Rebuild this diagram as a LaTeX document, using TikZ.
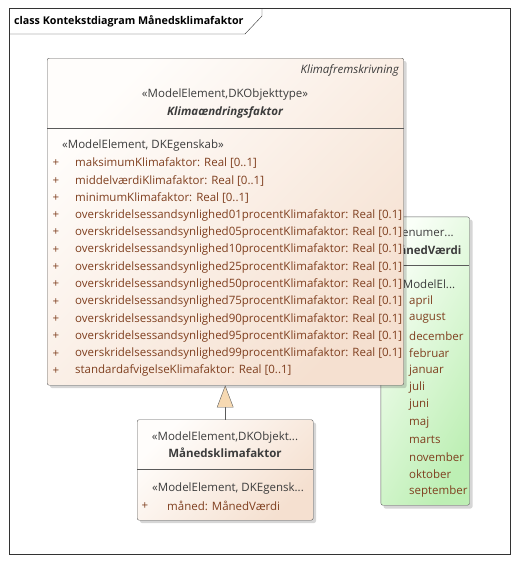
\documentclass[tikz,border=0pt]{standalone}
\usepackage{fontspec}
\setmainfont{Open Sans}
\usetikzlibrary{arrows.meta,positioning,calc}
\definecolor{boxline}{HTML}{5A5A5A}
\definecolor{peach}{HTML}{F5E0D0}
\definecolor{peachlite}{HTML}{FFFDFB}
\definecolor{greenfill}{HTML}{BDEFB4}
\definecolor{greenlite}{HTML}{FAFFF8}
\definecolor{attrtext}{HTML}{7F3F1F}
\definecolor{stereotext}{HTML}{3C3C3C}
\definecolor{genfill}{HTML}{F6D9B2}
\tikzset{clsbox/.style={draw=boxline, rounded corners=2pt, top color=peachlite, bottom color=peach, shading angle=45, inner sep=0pt}}
\tikzset{enumbox/.style={draw=boxline, rounded corners=2pt, top color=greenlite, bottom color=greenfill, shading angle=60, inner sep=0pt}}
\tikzset{shadowbox/.style={fill=black, opacity=0.16, rounded corners=2pt}}
\tikzset{attr/.style={anchor=west, inner sep=0pt, text=attrtext}}
\tikzset{stereo/.style={inner sep=0pt, text=stereotext}}
\tikzset{plus/.style={inner sep=0pt, text=attrtext}}
\tikzset{gen/.style={draw=boxline, -{Triangle[width=16.6pt, length=22pt, fill=genfill]}}}

\begin{document}
\begin{tikzpicture}[x=1pt, y=-1pt, font=\fontsize{11.5}{13}\selectfont]
    \useasboundingbox (0, 0) rectangle (518, 563);

    % frame and title tab
    \draw[black!80] (9, 8) rectangle (510, 554);
    \draw[black!80] (9, 34) -- (245, 34) -- (262, 16) -- (262, 8);
    \node[anchor=west, inner sep=0pt, font=\fontsize{10.7}{12}\selectfont\bfseries] (title) at (14, 21) {class Kontekstdiagram Månedsklimafaktor};

    % enumeration, partly behind the class
    \fill[shadowbox] (383.5, 219.5) rectangle (472.5, 508.5);
    \node[enumbox, minimum width=88.6pt, minimum height=288.3pt, anchor=north west] (mvaerdi) at (380.7, 216.7) {};
    \draw[boxline] (380.7, 265) -- (469.3, 265);
    \node[stereo] (mvstereo) at (425, 233) {«enumer...};
    \node[stereo, font=\fontsize{11.5}{13}\selectfont\bfseries] (mvname) at (425, 250) {MånedVærdi};
    \node[stereo, anchor=west] (mvattst) at (397, 284) {«ModelEl...};
    \foreach \v [count=\i] in {april, august, december, februar, januar, juli, juni, maj, marts, november, oktober, september}
        \node[attr] (mv\i) at (409, {284 + 17.27*\i}) {\v};

    % main class
    \fill[shadowbox] (50, 61) rectangle (406.5, 388);
    \node[clsbox, minimum width=356.5pt, minimum height=327pt, anchor=north west] (klima) at (47, 58) {};
    \draw[boxline] (47, 128) -- (403.5, 128);
    \node[stereo, anchor=east, font=\fontsize{11.5}{13}\selectfont\itshape] (kpkg) at (399, 70) {Klimafremskrivning};
    \node[stereo] (kstereo) at (225, 95) {«ModelElement,DKObjekttype»};
    \node[stereo, font=\fontsize{11.5}{13}\selectfont\bfseries\itshape] (kname) at (225, 112) {Klimaændringsfaktor};
    \node[stereo, anchor=west] (kattst) at (62, 146) {«ModelElement, DKEgenskab»};
    \foreach \a [count=\i] in {
        maksimumKlimafaktor: Real [0..1],
        middelværdiKlimafaktor: Real [0..1],
        minimumKlimafaktor: Real [0..1],
        overskridelsessandsynlighed01procentKlimafaktor: Real [0.1],
        overskridelsessandsynlighed05procentKlimafaktor: Real [0.1],
        overskridelsessandsynlighed10procentKlimafaktor: Real [0.1],
        overskridelsessandsynlighed25procentKlimafaktor: Real [0.1],
        overskridelsessandsynlighed50procentKlimafaktor: Real [0.1],
        overskridelsessandsynlighed75procentKlimafaktor: Real [0.1],
        overskridelsessandsynlighed90procentKlimafaktor: Real [0.1],
        overskridelsessandsynlighed95procentKlimafaktor: Real [0.1],
        overskridelsessandsynlighed99procentKlimafaktor: Real [0.1],
        standardafvigelseKlimafaktor: Real [0..1]} {
        \node[plus] (kp\i) at (56, {146 + 17.3*\i}) {+};
        \node[attr] (ka\i) at (75, {146 + 17.3*\i}) {\a};
    }

    % sub class
    \fill[shadowbox] (140, 422.5) rectangle (316, 523);
    \node[clsbox, minimum width=176pt, minimum height=100.5pt, anchor=north west] (mkf) at (137, 419.5) {};
    \draw[boxline] (137, 469) -- (313, 469);
    \node[stereo] (mstereo) at (225, 438) {«ModelElement,DKObjekt...};
    \node[stereo, font=\fontsize{11.5}{13}\selectfont\bfseries] (mname) at (225, 453) {Månedsklimafaktor};
    \node[stereo, anchor=west] (mattst) at (152, 489) {«ModelElement, DKEgensk...};
    \node[plus] (mp1) at (145, 506) {+};
    \node[attr] (ma1) at (167, 506) {måned: MånedVærdi};

    \draw[gen] (mkf.north) -- (mkf.north |- klima.south);
\end{tikzpicture}
\end{document}
